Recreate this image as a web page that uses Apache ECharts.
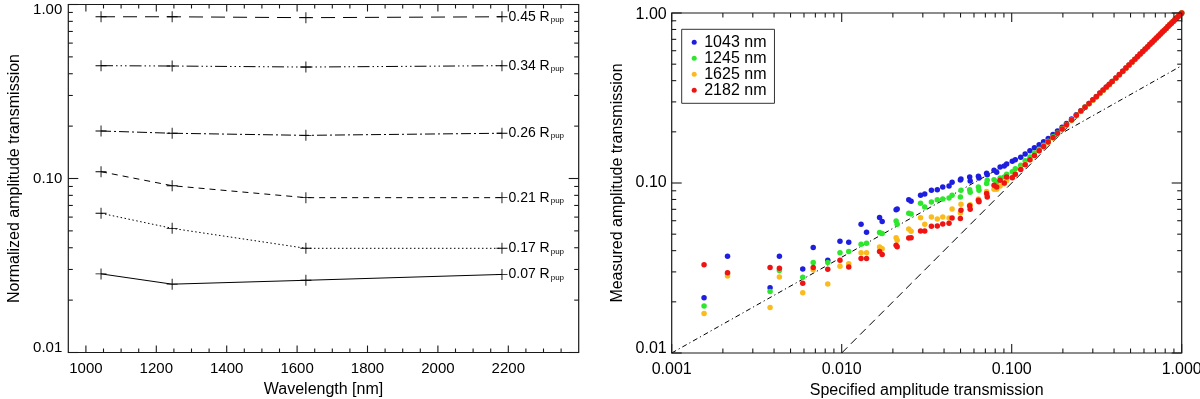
<!DOCTYPE html>
<html><head><meta charset="utf-8">
<script src="https://cdn.jsdelivr.net/npm/echarts@6/dist/echarts.min.js"></script>
<style>html,body{margin:0;padding:0;background:#fff}#c{width:1200px;height:399px}</style>
</head><body><div id="c"></div>
<script>
// ---------- Left panel data ----------
const wavelengths = [1043, 1245, 1625, 2182];
const radiusLabels = ['0.45', '0.34', '0.26', '0.21', '0.17', '0.07'];
const trans045 = [0.85, 0.85, 0.84, 0.85];
const trans034 = [0.445, 0.443, 0.437, 0.445];
const trans026 = [0.1875, 0.182, 0.177, 0.182];
const trans021 = [0.1094, 0.0909, 0.0776, 0.0776];
const trans017 = [0.0631, 0.0517, 0.0397, 0.0397];
const trans007 = [0.0283, 0.0247, 0.026, 0.0281];
const wlTickLabels = [1000, 1200, 1400, 1600, 1800, 2000, 2200];
const wlMinorTicks = [1050,1100,1150,1250,1300,1350,1450,1500,1550,1650,1700,1750,1850,1900,1950,2050,2100,2150,2250,2300,2350];
const leftYTickLabels = [0.01, 0.1, 1];

// ---------- Right panel data ----------
const legendNames = ['1043 nm', '1245 nm', '1625 nm', '2182 nm'];
const specX = [0.00155,0.00213,0.00379,0.0043,0.0059,0.0068,0.00828,0.00977,0.011,0.013,
  0.014,0.0167,0.0173,0.0209,0.0212,0.0248,0.0256,0.0291,0.0308,0.0337,
  0.0365,0.0393,0.0428,0.0446,0.0499,0.0503,0.0566,0.0570,0.0637,0.0642,
  0.0712,0.0718,0.0787,0.0816,0.0855,0.0904,0.0934,0.1008,0.105,0.113,
  0.12,0.128,0.136,0.145,0.154,0.164,0.175,0.186,0.198,
  0.21,0.225,0.24,0.255,0.27,0.285,0.30,0.315,0.33,0.345,0.36,0.375,0.39,
  0.41,0.43,0.45,0.47,0.49,0.51,0.53,0.55,0.57,0.59,0.61,0.63,0.65,0.67,0.69,0.71,0.73,0.75,
  0.77,0.79,0.81,0.83,0.85,0.87,0.89,0.91,0.93,0.95,0.97,0.99,1.0];
const meas1043 = [0.0211,0.0371,0.0242,0.0371,0.0312,0.0417,0.0351,0.0454,0.0448,0.0571,
  0.0513,0.0626,0.0593,0.0697,0.0703,0.0798,0.078,0.0847,0.0862,0.0906,
  0.0914,0.0948,0.0961,0.101,0.104,0.1056,0.1085,0.1028,0.1095,0.107,
  0.114,0.112,0.1188,0.1156,0.1243,0.126,0.1294,0.1342,0.137,0.1416,
  0.148,0.155,0.161,0.168,0.175,0.183,0.193,0.202,0.213,
  0.224,0.238,0.252,0.266,0.28,0.294,0.308,0.322,0.337,0.351,0.366,0.38,0.395,
  0.414,0.434,0.454,0.474,0.494,0.513,0.533,0.553,0.573,0.593,0.612,0.632,0.652,0.672,0.692,0.712,0.732,0.752,
  0.772,0.792,0.812,0.832,0.852,0.872,0.892,0.912,0.932,0.952,0.971,0.991,1.0];
const meas1245 = [0.0189,0.0293,0.023,0.0306,0.0279,0.0341,0.0341,0.0389,0.0396,0.0436,
  0.0442,0.0512,0.0505,0.0598,0.0571,0.0663,0.0657,0.076,0.0723,0.0773,
  0.0798,0.0805,0.0816,0.0847,0.0828,0.0906,0.0914,0.0882,0.0948,0.0906,
  0.0992,0.1037,0.1046,0.1014,0.107,0.1085,0.1125,0.1166,0.1214,0.127,
  0.135,0.142,0.15,0.158,0.167,0.176,0.187,0.197,0.209,
  0.221,0.235,0.25,0.264,0.279,0.293,0.307,0.322,0.336,0.351,0.365,0.38,0.395,
  0.414,0.434,0.453,0.473,0.493,0.513,0.533,0.553,0.573,0.592,0.612,0.632,0.652,0.672,0.692,0.712,0.732,0.752,
  0.772,0.792,0.812,0.832,0.852,0.872,0.892,0.912,0.932,0.952,0.971,0.991,1.0];
const meas1625 = [0.0171,0.0284,0.0185,0.028,0.0226,0.0309,0.0255,0.0324,0.0335,0.0389,
  0.0389,0.042,0.0411,0.0477,0.046,0.0537,0.052,0.0625,0.0571,0.0631,
  0.0615,0.0631,0.0622,0.0704,0.0666,0.0749,0.0729,0.0745,0.0805,0.079,
  0.089,0.0847,0.092,0.092,0.096,0.099,0.103,0.108,0.113,0.121,
  0.129,0.137,0.145,0.154,0.163,0.173,0.184,0.195,0.207,
  0.219,0.234,0.249,0.263,0.278,0.293,0.307,0.322,0.336,0.351,0.365,0.38,0.395,
  0.414,0.434,0.453,0.473,0.493,0.513,0.533,0.553,0.573,0.592,0.612,0.632,0.652,0.672,0.692,0.712,0.732,0.752,
  0.772,0.792,0.812,0.832,0.852,0.872,0.892,0.912,0.932,0.952,0.971,0.991,1.0];
const meas2182 = [0.0331,0.0297,0.0318,0.0315,0.0257,0.0318,0.0311,0.0351,0.0321,0.036,
  0.036,0.0396,0.038,0.043,0.0422,0.0475,0.0477,0.0522,0.0522,0.0556,
  0.0559,0.0574,0.058,0.0622,0.0619,0.0691,0.0736,0.07,0.0791,0.0777,
  0.0866,0.0828,0.097,0.0947,0.1037,0.1,0.1085,0.1075,0.1126,0.12,
  0.128,0.137,0.145,0.155,0.164,0.174,0.185,0.196,0.208,
  0.22,0.235,0.25,0.265,0.279,0.294,0.309,0.323,0.338,0.352,0.367,0.381,0.396,
  0.415,0.435,0.455,0.475,0.495,0.515,0.534,0.554,0.574,0.594,0.614,0.634,0.654,0.673,0.693,0.713,0.733,0.753,
  0.772,0.792,0.812,0.832,0.852,0.871,0.891,0.911,0.931,0.951,0.97,0.99,1.0];
const dashDotX = [0.001, 1];
const dashDotY = [0.01, 0.49];
const unityX = [0.01, 1];
const unityY = [0.01, 1];
const rightXTickLabels = [0.001, 0.01, 0.1, 1];
const rightYTickLabels = [0.01, 0.1, 1];
const minorMantissas = [2, 3, 4, 5, 6, 7, 8, 9];

// ---------- axis ranges ----------
const L = { xMin: 950, xMax: 2400, yMin: 0.01, yMax: 1 };
const R = { xMin: 0.001, xMax: 1, yMin: 0.01, yMax: 1 };

// ---------- styling / layout (code) ----------
const FONT = 'Liberation Sans';
const AXC = '#1a1a1a';
const zip = (xs, ys) => xs.map((x, i) => [x, ys[i]]);
const minorOf = (decades) => {
  const out = [];
  decades.forEach(d => minorMantissas.forEach(m => out.push(m * d)));
  return out;
};

const yLabel = (digits, minV, maxV) => v => {
  const s = (+v).toFixed(digits);
  if (Math.abs(v - minV) < 1e-9) return '{lo|' + s + '}';
  if (Math.abs(v - maxV) < 1e-9) return '{hi|' + s + '}';
  return s;
};

function mainAxis(o) {
  const a = {
    type: o.type, gridIndex: o.grid, position: o.pos, min: o.min, max: o.max,
    axisLine: { show: false, onZero: false },
    axisTick: { show: false },
    splitLine: { show: false },
    axisLabel: Object.assign({ show: true, color: '#000', fontFamily: FONT, fontSize: 15 }, o.label),
    name: o.name, nameLocation: 'middle', nameGap: o.nameGap,
    nameTextStyle: { fontFamily: FONT, fontSize: 16, color: '#000' }
  };
  if (o.type === 'log') a.logBase = 10;
  return a;
}

const xAxes = [
  mainAxis({ type: 'value', grid: 0, pos: 'bottom', min: L.xMin, max: L.xMax,
    label: { customValues: wlTickLabels, margin: 9, formatter: v => String(v) },
    name: 'Wavelength [nm]', nameGap: 23 }),
  mainAxis({ type: 'log', grid: 1, pos: 'bottom', min: R.xMin, max: R.xMax,
    label: { formatter: v => (+v).toFixed(3), margin: 9, fontSize: 16 },
    name: 'Specified amplitude transmission', nameGap: 23 })
];
const yAxes = [
  mainAxis({ type: 'log', grid: 0, pos: 'left', min: L.yMin, max: L.yMax,
    label: { formatter: yLabel(2, L.yMin, L.yMax), margin: 6,
      rich: { lo: { fontFamily: FONT, fontSize: 15, padding: [0, 0, 10, 0] }, hi: { fontFamily: FONT, fontSize: 15, padding: [10, 0, 0, 0] } } },
    name: 'Normalized amplitude transmission', nameGap: 46 }),
  mainAxis({ type: 'log', grid: 1, pos: 'left', min: R.yMin, max: R.yMax,
    label: { formatter: yLabel(2, R.yMin, R.yMax), margin: 5, fontSize: 16,
      rich: { lo: { fontFamily: FONT, fontSize: 16, padding: [0, 0, 9, 0] }, hi: { fontFamily: FONT, fontSize: 16, padding: [4, 0, 0, 0] } } },
    name: 'Measured amplitude transmission', nameGap: 46 })
];

const series = [];
// tick marks on all four sides: short rect symbols placed through the axes' scales
function addTicks(axisIdx, rng, vals, len, side) {
  let data, size, offset;
  if (side === 'bottom') { data = vals.map(v => [v, rng.yMin]); size = [1.1, len]; offset = [0, -len / 2]; }
  else if (side === 'top') { data = vals.map(v => [v, rng.yMax]); size = [1.1, len]; offset = [0, len / 2]; }
  else if (side === 'left') { data = vals.map(v => [rng.xMin, v]); size = [len, 1.1]; offset = [len / 2, 0]; }
  else { data = vals.map(v => [rng.xMax, v]); size = [len, 1.1]; offset = [-len / 2, 0]; }
  series.push({
    type: 'scatter', xAxisIndex: axisIdx, yAxisIndex: axisIdx, data,
    symbol: 'rect', symbolSize: size, symbolOffset: offset, clip: false, silent: true,
    itemStyle: { color: AXC, opacity: 1 }, emphasis: { disabled: true }, z: 10
  });
}
['bottom', 'top'].forEach(s => {
  addTicks(0, L, wlTickLabels, 7, s); addTicks(0, L, wlMinorTicks, 4, s);
  addTicks(1, R, rightXTickLabels, 9, s); addTicks(1, R, minorOf([0.001, 0.01, 0.1]), 4.5, s);
});
['left', 'right'].forEach(s => {
  addTicks(0, L, leftYTickLabels, 10, s); addTicks(0, L, minorOf([0.01, 0.1]), 4.5, s);
  addTicks(1, R, rightYTickLabels, 10, s); addTicks(1, R, minorOf([0.01, 0.1]), 4.5, s);
});

const PLUS = 'path://M0,4.6H10V5.4H0Z M4.6,0H5.4V10H4.6Z';
const leftSets = [trans045, trans034, trans026, trans021, trans017, trans007];
const dashTypes = [
  [14, 8],
  [12, 3, 1.5, 3, 1.5, 3, 1.5, 3],
  [10, 3, 2, 3],
  [6, 5],
  [1.5, 2.5],
  'solid'
];
leftSets.forEach((vals, i) => {
  series.push({
    type: 'line', xAxisIndex: 0, yAxisIndex: 0,
    data: zip(wavelengths, vals),
    symbol: PLUS, symbolSize: 11, showSymbol: true,
    itemStyle: { color: '#000' },
    lineStyle: { color: '#000', width: 1, type: dashTypes[i] },
    label: {
      show: true, position: 'right', distance: 1,
      formatter: p => p.dataIndex === wavelengths.length - 1 ? '{a|' + radiusLabels[i] + ' R}{b|pup}' : '',
      rich: {
        a: { fontFamily: FONT, fontSize: 14, color: '#000', lineHeight: 14 },
        b: { fontFamily: FONT, fontSize: 8, color: '#000', verticalAlign: 'bottom', lineHeight: 8, padding: [9, 0, 0, 1] }
      }
    },
    emphasis: { disabled: true }, z: 3
  });
});
series.push({
  type: 'line', xAxisIndex: 1, yAxisIndex: 1, data: zip(dashDotX, dashDotY), symbol: 'none',
  lineStyle: { color: '#000', width: 1, type: [5, 3, 1.2, 3] }, emphasis: { disabled: true }, z: 2
});
series.push({
  type: 'line', xAxisIndex: 1, yAxisIndex: 1, data: zip(unityX, unityY), symbol: 'none',
  lineStyle: { color: '#000', width: 1, type: [8, 5] }, emphasis: { disabled: true }, z: 2
});
const scatterSets = [meas1043, meas1245, meas1625, meas2182];
const scatterColors = ['#1e1ee0', '#2ee62e', '#fbbb1c', '#ee1414'];
scatterSets.forEach((vals, i) => {
  series.push({
    type: 'scatter', name: legendNames[i], xAxisIndex: 1, yAxisIndex: 1,
    data: zip(specX, vals), symbol: 'circle', symbolSize: 5.5,
    itemStyle: { color: scatterColors[i], opacity: 1 },
    emphasis: { disabled: true }, z: 3 + i
  });
});

const chart = echarts.init(document.getElementById('c'), null, { renderer: 'canvas' });
chart.setOption({
  animation: false,
  backgroundColor: '#fff',
  grid: [
    { left: 68.3, top: 4.5, width: 510.4, height: 348, containLabel: false, outerBoundsMode: 'none',
      show: true, borderColor: AXC, borderWidth: 1.2, backgroundColor: 'transparent' },
    { left: 671.7, top: 13, width: 510, height: 340, containLabel: false, outerBoundsMode: 'none',
      show: true, borderColor: AXC, borderWidth: 1.2, backgroundColor: 'transparent' }
  ],
  xAxis: xAxes,
  yAxis: yAxes,
  legend: {
    data: legendNames, orient: 'vertical', left: 681.7, top: 29.3,
    icon: 'circle', itemWidth: 10, itemHeight: 5, itemGap: 0,
    padding: [5, 8, 5, 10], borderColor: '#333', borderWidth: 1, borderRadius: 0,
    backgroundColor: '#fff', selectedMode: false,
    textStyle: { fontFamily: FONT, fontSize: 16, lineHeight: 16, color: '#000' }
  },
  series: series
});
</script>
</body></html>
